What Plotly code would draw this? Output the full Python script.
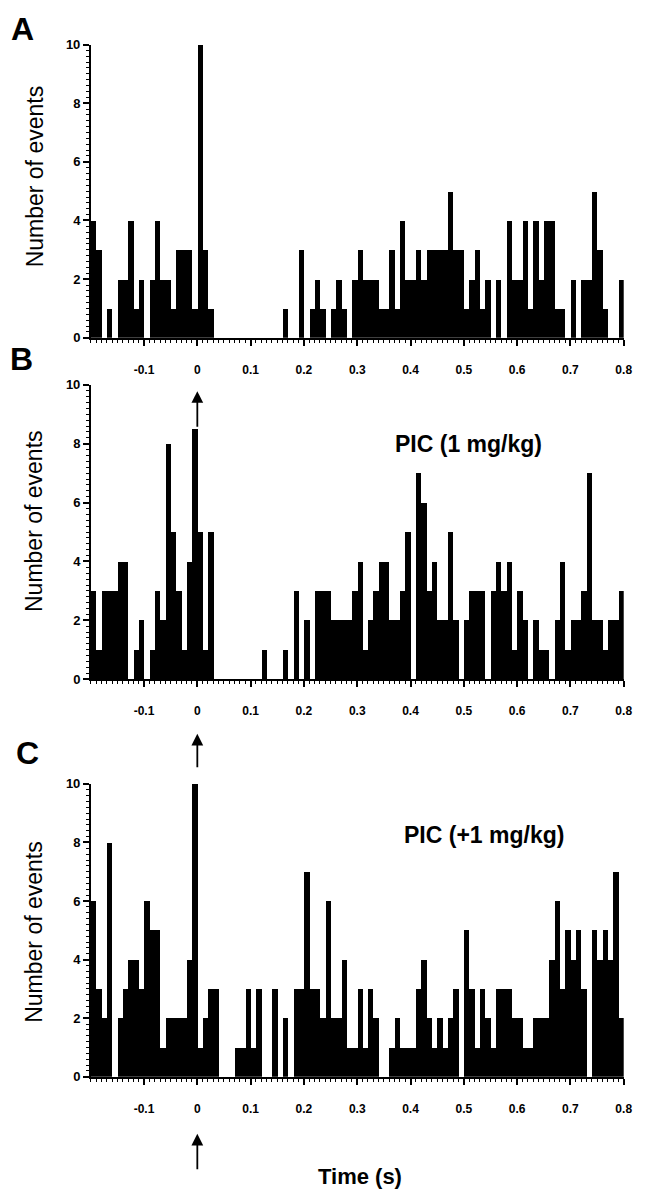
import numpy as np
import plotly.graph_objects as go

# ---- data (events per 10-ms bin, from -0.2 s to 0.8 s) ----
bin_width = 0.01
time_start = -0.2
counts_A = [4, 3, 0, 1, 0, 2, 2, 4, 1, 2, 0, 2, 4, 2, 2, 1, 3, 3, 3, 1,
            10, 3, 1, 0, 0, 0, 0, 0, 0, 0, 0, 0, 0, 0, 0, 0,
            1, 0, 0, 3, 0, 1, 2, 1, 0, 1, 2, 1, 0, 2, 3, 2, 2, 2, 1, 1, 3, 1, 4, 2, 2, 3, 2, 3, 3, 3, 3, 5,
            3, 3, 1, 2, 3, 1, 2, 0, 2, 0, 4, 2, 2, 4, 1, 4, 2, 4, 4, 1, 1, 0, 2, 0, 2, 2, 5, 3, 1, 0, 0, 2]
counts_B = [3, 1, 3, 3, 3, 4, 4, 0, 1, 2, 0, 1, 3, 2, 8, 5, 3, 1, 4, 8.5,
            5, 1, 5, 0, 0, 0, 0, 0, 0, 0, 0, 0, 1, 0, 0, 0, 1, 0, 3, 0,
            2, 0, 3, 3, 3, 2, 2, 2, 2, 3, 4, 1, 2, 3, 4, 4, 2, 2, 3, 5,
            0, 7, 6, 3, 4, 2, 2, 5, 2, 0, 2, 3, 3, 3, 0, 3, 4, 3, 4, 1,
            3, 2, 0, 2, 1, 1, 0, 2, 4, 1, 2, 2, 3, 7, 2, 2, 1, 2, 2, 3]
counts_C = [6, 3, 2, 8, 0, 2, 3, 4, 4, 3, 6, 5, 5, 1, 2, 2, 2, 2, 4, 10,
            1, 2, 3, 3, 0, 0, 0, 1, 1, 3, 1, 3, 0, 0, 3, 0, 2, 0, 3, 3,
            7, 3, 3, 2, 6, 2, 2, 4, 1, 1, 3, 1, 3, 2, 0, 0, 1, 2, 1, 1,
            1, 3, 4, 2, 1, 2, 1, 2, 3, 0, 5, 3, 1, 3, 2, 1, 3, 3, 3, 2,
            2, 1, 1, 2, 2, 2, 4, 6, 3, 5, 4, 5, 3, 0, 5, 4, 5, 4, 7, 2]
panel_letters = ["A", "B", "C"]
panel_labels = [None, "PIC (1 mg/kg)", "PIC (+1 mg/kg)"]
x_tick_vals = [-0.1, 0, 0.1, 0.2, 0.3, 0.4, 0.5, 0.6, 0.7, 0.8]
x_tick_text = ["-0.1", "0", "0.1", "0.2", "0.3", "0.4", "0.5", "0.6", "0.7", "0.8"]
y_tick_vals = [0, 2, 4, 6, 8, 10]
y_title = "Number of events"
x_title = "Time (s)"

W, H = 648, 1200
FONT = "Liberation Sans, Arial, sans-serif"

def px_x(p):
    return p / W

def px_y(p):
    return 1 - p / H

x_domain = [px_x(92), px_x(632.5)]
y_domains = [[px_y(335), px_y(38)], [px_y(680.7), px_y(382.7)], [px_y(1083.3), px_y(786.7)]]
letter_pos = [(23, 22), (22, 356), (28, 755)]
label_pos = [None, (475, 443), (491, 838)]
ytitle_pos = [(35, 172), (35, 521), (35, 937)]
arrow_tips = [(389, 37), (736, 35), (1141, 37)]

fig = go.Figure()
series = [counts_A, counts_B, counts_C]
n_bins = len(counts_A)
centers = time_start + bin_width / 2 + bin_width * np.arange(n_bins)

annotations = []
for i, counts in enumerate(series):
    k = i + 1
    xa = "x" if k == 1 else f"x{k}"
    ya = "y" if k == 1 else f"y{k}"
    fig.add_trace(go.Bar(x=centers, y=counts, width=bin_width, xaxis=xa, yaxis=ya,
                         marker=dict(color="black", line=dict(width=0)),
                         hoverinfo="x+y"))
    xname = "xaxis" if k == 1 else f"xaxis{k}"
    yname = "yaxis" if k == 1 else f"yaxis{k}"
    fig.layout[xname] = dict(
        domain=x_domain, anchor=ya, range=[-0.2, 0.8],
        tickmode="array", tickvals=x_tick_vals, ticktext=x_tick_text,
        ticks="outside", ticklen=6, tickwidth=2, tickcolor="black",
        showline=True, linecolor="black", linewidth=1.5,
        showgrid=False, zeroline=False, ticklabelstandoff=14,
        tickfont=dict(family=FONT, size=12, color="black", weight="bold"),
        minor=dict(tickmode="linear", tick0=-0.2, dtick=0.01, ticks="outside",
                   ticklen=3, tickwidth=1, tickcolor="black", showgrid=False),
    )
    fig.layout[yname] = dict(
        domain=y_domains[i], anchor=xa, range=[0, 10],
        tickmode="array", tickvals=y_tick_vals,
        ticks="outside", ticklen=6, tickwidth=1.5, tickcolor="black",
        showline=True, linecolor="black", linewidth=1.5,
        showgrid=False, zeroline=False,
        tickfont=dict(family=FONT, size=13, color="black", weight="bold"),
        minor=dict(tickmode="linear", tick0=0, dtick=0.2, ticks="outside",
                   ticklen=2.5, tickwidth=1, tickcolor="black", showgrid=False),
    )
    lx, ly = letter_pos[i]
    annotations.append(dict(text=panel_letters[i], x=px_x(lx), y=px_y(ly), xref="paper", yref="paper",
                            showarrow=False, xanchor="center", yanchor="middle",
                            font=dict(family=FONT, size=32, color="black", weight="bold")))
    if panel_labels[i]:
        tx, ty = label_pos[i]
        annotations.append(dict(text=panel_labels[i], x=px_x(tx), y=px_y(ty), xref="paper", yref="paper",
                                showarrow=False, xanchor="center", yanchor="middle",
                                font=dict(family=FONT, size=23, color="black", weight="bold")))
    tx, ty = ytitle_pos[i]
    annotations.append(dict(text=y_title, x=px_x(tx), y=px_y(ty), xref="paper", yref="paper",
                            showarrow=False, xanchor="center", yanchor="middle", textangle=-90,
                            font=dict(family=FONT, size=23, color="black")))
    tip, length = arrow_tips[i]
    annotations.append(dict(text="", x=0, y=px_y(tip), xref=xa, yref="paper",
                            showarrow=True, ax=0, ay=length, axref="pixel", ayref="pixel",
                            arrowhead=2, arrowsize=1.3, arrowwidth=1.8, arrowcolor="black",
                            standoff=0, startstandoff=0))

annotations.append(dict(text=x_title, x=px_x(365), y=px_y(1184), xref="paper", yref="paper",
                        showarrow=False, xanchor="center", yanchor="middle",
                        font=dict(family=FONT, size=22, color="black", weight="bold")))

fig.update_layout(width=W, height=H, margin=dict(l=0, r=0, t=0, b=0),
                  plot_bgcolor="white", paper_bgcolor="white",
                  bargap=0, showlegend=False, annotations=annotations,
                  font=dict(family=FONT, color="black"))

fig.write_html("out.html", config={"displayModeBar": False},
               post_script="document.body.style.margin='0px';document.body.style.overflow='hidden';")
